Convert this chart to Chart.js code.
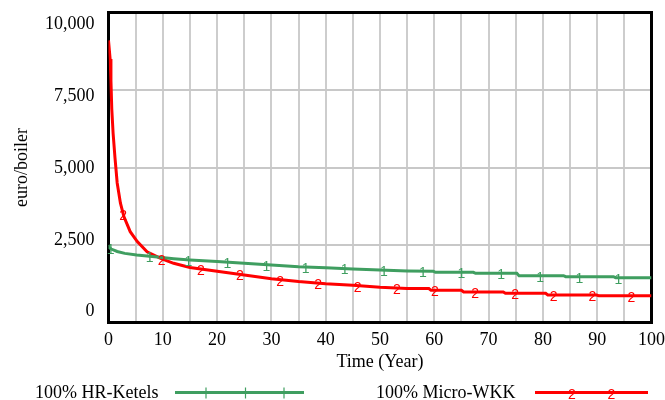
<!DOCTYPE html>
<html><head><meta charset="utf-8">
<script src="https://cdn.jsdelivr.net/npm/chart.js@4.4.1/dist/chart.umd.min.js"></script>
<style>
html,body{margin:0;padding:0;background:#fff;}
#wrap{position:relative;width:665px;height:400px;overflow:hidden;}
#c{position:absolute;left:0;top:0;}
#lgsvg{position:absolute;left:0;top:0;}
.lg{position:absolute;font-family:"Liberation Serif","Times New Roman",serif;font-size:18px;line-height:18px;color:#000;white-space:nowrap;}
</style></head><body>
<div id="wrap">
<canvas id="c" width="665" height="400"></canvas>
<svg id="lgsvg" width="665" height="400" xmlns="http://www.w3.org/2000/svg"></svg>
</div>
<script>
// ---- data ----
const seriesNames = ['100% HR-Ketels', '100% Micro-WKK'];
const xTitle = 'Time (Year)';
const yTitle = 'euro/boiler';
const yTicks = [0, 2500, 5000, 7500, 10000];

const greenYears  = [0, 0.5, 1.6, 3, 5.2, 9, 12, 15, 20, 25, 30, 35, 40, 45, 50, 55, 59.8, 60.2, 67.2, 67.6, 75.2, 75.6, 83.8, 84.2, 93, 93.4, 100];
const greenValues = [2440, 2370, 2290, 2230, 2180, 2110, 2060, 2020, 1965, 1910, 1855, 1800, 1765, 1726, 1690, 1665, 1655, 1619, 1619, 1587, 1587, 1510, 1510, 1477, 1477, 1445, 1445];

const redYears  = [0, 0.3, 0.45, 0.6, 0.85, 1.2, 1.6, 2.2, 2.85, 4, 5.3, 7.1, 9.6, 12, 15, 20, 25, 30, 35, 40, 45, 50, 55, 59, 59.4, 65, 65.4, 72.7, 73.1, 80.5, 80.9, 89.9, 90.3, 100];
const redValues = [9100, 8500, 7800, 6900, 6100, 5300, 4500, 3850, 3410, 2930, 2610, 2280, 2070, 1910, 1775, 1655, 1535, 1410, 1320, 1250, 1200, 1135, 1100, 1095, 1037, 1037, 984, 984, 942, 942, 887, 887, 860, 860];

const greenMarkerYears = [0.4, 7.6, 14.7, 21.9, 29.1, 36.3, 43.5, 50.7, 57.9, 65.0, 72.3, 79.5, 86.7, 93.9];
const redMarkerYears   = [2.7, 9.8, 17.0, 24.2, 31.6, 38.6, 45.9, 53.1, 60.1, 67.5, 74.9, 82.0, 89.1, 96.3];

// ---- styles ----
const GREEN = '#3f9e60';
const RED = '#ff0000';
const SERIF = '"Liberation Serif","Times New Roman",serif';
const SANS = '"Liberation Sans",Arial,sans-serif';
const tickFont = {family: SERIF, size: 18};

function interp(xs, ys, t) {
  for (let i = 1; i < xs.length; i++) {
    if (t <= xs[i]) {
      const f = (t - xs[i-1]) / (xs[i] - xs[i-1]);
      return ys[i-1] + f * (ys[i] - ys[i-1]);
    }
  }
  return ys[ys.length - 1];
}

const markerSets = [
  {glyph: '1', color: GREEN, xs: greenYears, ys: greenValues, times: greenMarkerYears},
  {glyph: '2', color: RED, xs: redYears, ys: redValues, times: redMarkerYears}
];

const framePlugin = {
  id: 'frame',
  beforeDatasetsDraw(chart) {
    const {ctx, chartArea: a} = chart;
    const ys = chart.scales.y;
    ctx.save();
    ctx.strokeStyle = '#c8c8c8';
    ctx.lineWidth = 2;
    for (let i = 0; i < yTicks.length; i++) {
      const p = Math.round(ys.getPixelForValue(yTicks[i]));
      ctx.beginPath();
      ctx.moveTo(a.left, p);
      ctx.lineTo(a.right, p);
      ctx.stroke();
    }
    ctx.strokeStyle = '#000';
    ctx.lineWidth = 3;
    ctx.strokeRect(a.left, a.top, a.right - a.left, a.bottom - a.top);
    ctx.restore();
  }
};

const markerPlugin = {
  id: 'markers',
  afterDatasetsDraw(chart) {
    const ctx = chart.ctx, xs = chart.scales.x, ys = chart.scales.y;
    ctx.save();
    ctx.font = '14px ' + SANS;
    ctx.textAlign = 'center';
    ctx.textBaseline = 'middle';
    markerSets.forEach(m => {
      ctx.fillStyle = m.color;
      m.times.forEach(t => {
        const v = interp(m.xs, m.ys, t);
        ctx.fillText(m.glyph, xs.getPixelForValue(t), ys.getPixelForValue(v) + 2);
      });
    });
    ctx.restore();
  }
};

function noPad(s) { s.paddingLeft = 0; s.paddingRight = 0; s.paddingTop = 0; s.paddingBottom = 0; }

new Chart(document.getElementById('c'), {
  type: 'line',
  data: {
    datasets: [
      {label: seriesNames[0], data: greenYears.map((x, i) => ({x, y: greenValues[i]})),
       borderColor: GREEN, borderWidth: 3, pointRadius: 0, tension: 0, fill: false},
      {label: seriesNames[1], data: redYears.map((x, i) => ({x, y: redValues[i]})),
       borderColor: RED, borderWidth: 3, pointRadius: 0, tension: 0, fill: false}
    ]
  },
  options: {
    responsive: false,
    animation: false,
    events: [],
    layout: {padding: {top: 12.5, right: 13.5, left: 0, bottom: 0}},
    plugins: {legend: {display: false}, tooltip: {enabled: false}},
    scales: {
      x: {
        type: 'linear', min: 0, max: 100,
        afterFit: s => { s.height = 77.5; noPad(s); },
        ticks: {stepSize: 5, autoSkip: false, maxRotation: 0, padding: 7, font: tickFont, color: '#000',
                callback: v => (v % 10 === 0 ? String(v) : '')},
        grid: {color: '#cdcdcd', lineWidth: 2, drawTicks: false},
        border: {display: false},
        title: {display: true, text: xTitle, font: tickFont, color: '#000', padding: {top: 0, bottom: 27}}
      },
      y: {
        type: 'linear', min: 0, max: 10000, position: 'left',
        afterFit: s => { s.width = 0; noPad(s); },
        ticks: {display: false, stepSize: 2500},
        grid: {display: false, drawTicks: false},
        border: {display: false}
      },
      yl: {
        type: 'linear', min: -375, max: 10400, position: 'left',
        afterFit: s => { s.width = 108.5; noPad(s); },
        afterBuildTicks: s => { s.ticks = yTicks.map(v => ({value: v})); },
        ticks: {padding: 14, font: tickFont, color: '#000', callback: v => v.toLocaleString('en-US')},
        grid: {display: false, drawTicks: false},
        border: {display: false},
        title: {display: true, text: yTitle, font: tickFont, color: '#000', padding: {top: 11, bottom: 0}}
      }
    }
  },
  plugins: [framePlugin, markerPlugin]
});

// ---- legend (HTML text + SVG samples) ----
const wrap = document.getElementById('wrap');
const svg = document.getElementById('lgsvg');
const NS = 'http://www.w3.org/2000/svg';
const legendLeft = [35, 376];
seriesNames.forEach((name, i) => {
  const d = document.createElement('div');
  d.className = 'lg';
  d.style.left = legendLeft[i] + 'px';
  d.style.top = '383px';
  d.textContent = name;
  wrap.appendChild(d);
});
function el(tag, attrs, text) {
  const e = document.createElementNS(NS, tag);
  for (const k in attrs) e.setAttribute(k, attrs[k]);
  if (text) e.textContent = text;
  svg.appendChild(e);
  return e;
}
el('line', {x1: 175, y1: 392.5, x2: 304, y2: 392.5, stroke: GREEN, 'stroke-width': 3});
[206, 245.5, 284].forEach(x => el('line', {x1: x, y1: 387.5, x2: x, y2: 398.5, stroke: GREEN, 'stroke-width': 1.2}));
el('line', {x1: 535, y1: 392.5, x2: 648, y2: 392.5, stroke: RED, 'stroke-width': 3});
[572, 611.5].forEach(x => el('text', {x: x, y: 399, fill: RED, 'font-size': 14, 'font-family': SANS, 'text-anchor': 'middle'}, '2'));
</script>
</body></html>
